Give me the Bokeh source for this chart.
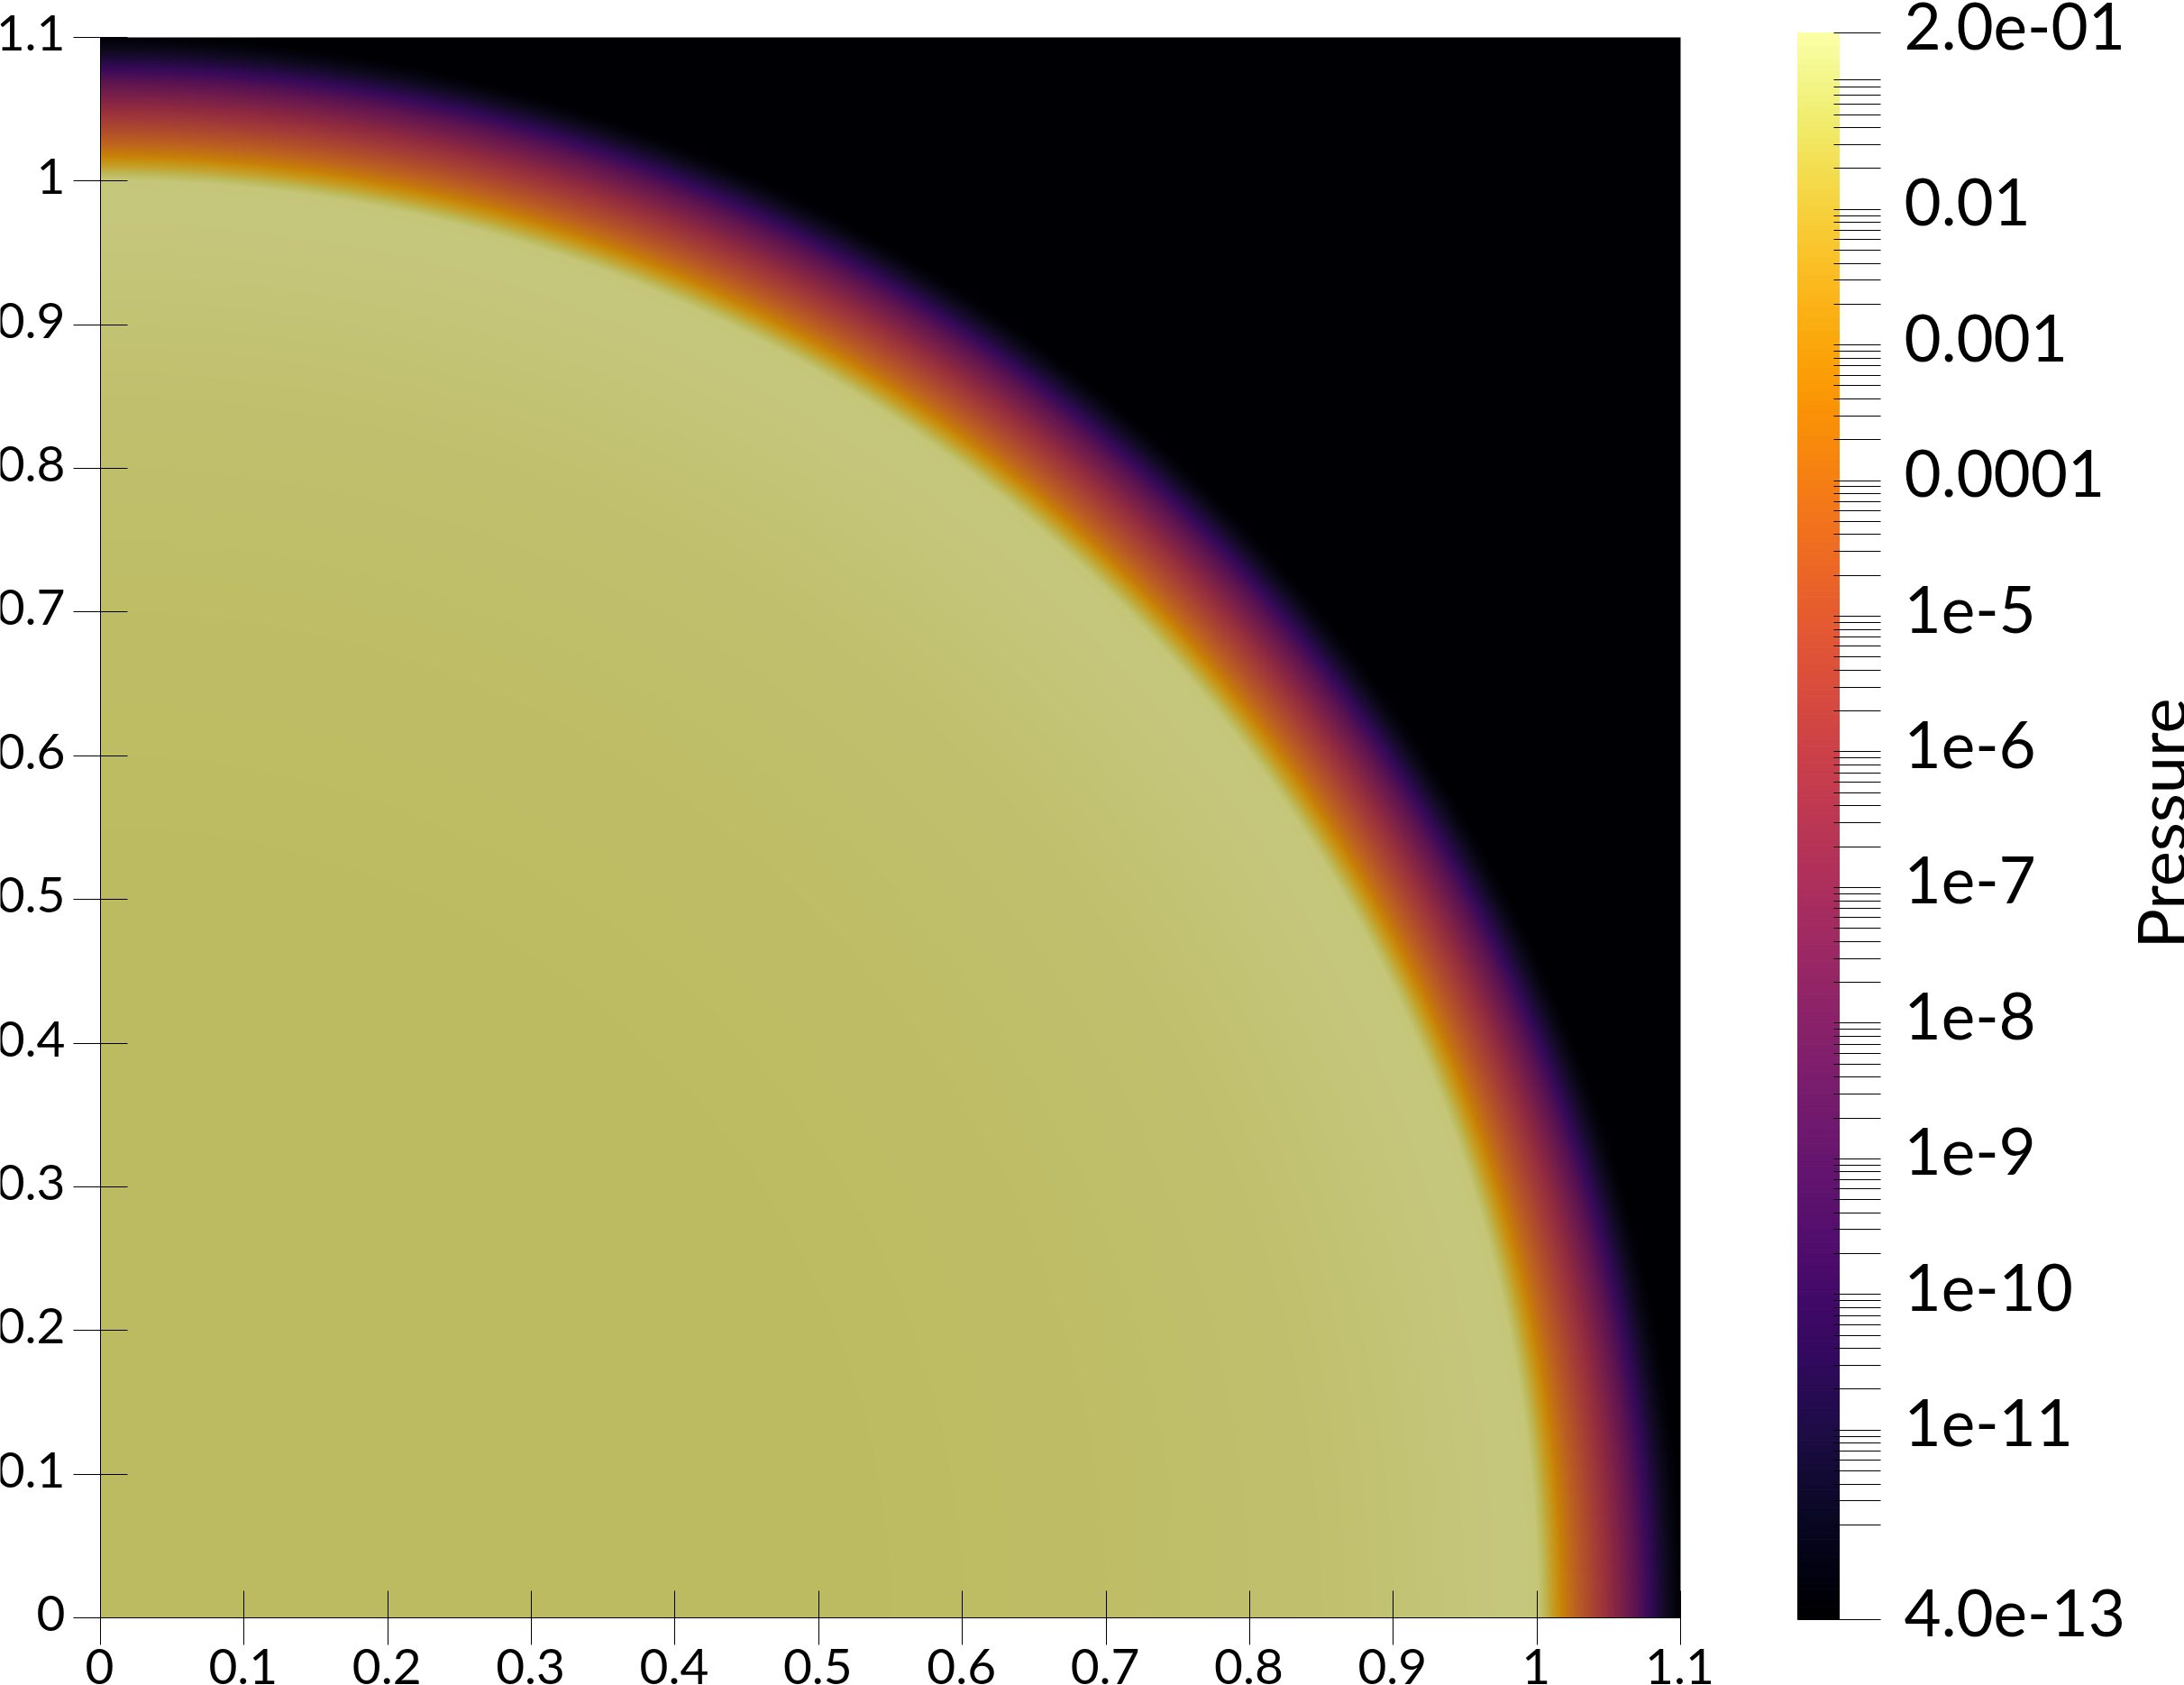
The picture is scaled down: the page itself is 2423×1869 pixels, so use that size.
import math

import numpy as np
from bokeh.core.properties import value
from bokeh.embed import file_html
from bokeh.layouts import row
from bokeh.models import FixedTicker, Range1d
from bokeh.palettes import Inferno256
from bokeh.plotting import figure
from bokeh.resources import INLINE

# Axis ticks
tick_values = [0, 0.1, 0.2, 0.3, 0.4, 0.5, 0.6, 0.7, 0.8, 0.9, 1, 1.1]
tick_labels = ["0", "0.1", "0.2", "0.3", "0.4", "0.5", "0.6", "0.7", "0.8", "0.9", "1", "1.1"]

# Radial profile of the field colour
radius = [0.0, 0.55, 0.60, 0.70, 0.80, 0.85, 0.90, 0.95, 0.99, 1.001, 1.0055, 1.0095, 1.0145, 1.018,
          1.026, 1.0335, 1.0425, 1.052, 1.061, 1.069, 1.078, 1.084, 1.0905, 1.097, 1.102, 1.6]
red = [0xBD, 0xBD, 0xBE, 0xBF, 0xC0, 0xC1, 0xC3, 0xC5, 0xC6, 0xC5, 0xBD, 0xC4, 0xC8, 0xC8,
       0xBE, 0xB3, 0xA3, 0x8F, 0x74, 0x5C, 0x38, 0x22, 0x10, 0x04, 0x00, 0x00]
green = [0xBB, 0xBC, 0xBD, 0xBE, 0xBF, 0xC0, 0xC3, 0xC6, 0xC8, 0xC6, 0xB8, 0xA5, 0x90, 0x7F,
         0x64, 0x50, 0x3C, 0x2A, 0x1E, 0x14, 0x0A, 0x0A, 0x0A, 0x04, 0x00, 0x00]
blue = [0x62, 0x62, 0x64, 0x67, 0x6B, 0x6F, 0x74, 0x7A, 0x7E, 0x78, 0x57, 0x30, 0x10, 0x07,
        0x20, 0x2A, 0x38, 0x40, 0x4C, 0x50, 0x5A, 0x40, 0x20, 0x0C, 0x04, 0x04]

# Colour bar
bar_low, bar_high = 4.0e-13, 0.2
bar_labelled = [0.2, 0.01, 0.001, 0.0001, 1e-5, 1e-6, 1e-7, 1e-8, 1e-9, 1e-10, 1e-11, 4.0e-13]
bar_labels = ["2.0e-01", "0.01", "0.001", "0.0001", "1e-5", "1e-6", "1e-7", "1e-8", "1e-9",
              "1e-10", "1e-11", "4.0e-13"]
bar_unlabelled = [m * 10.0 ** e for e in range(-12, -1) for m in range(2, 10)]
bar_title = "Pressure"

FONT = value("Lato")

# ---- main panel: the frame fills the whole figure, the extents are padded by the margins
N = 1753
S = N / 1.1  # pixels per unit
c = (np.arange(N) + 0.5) / S
r = np.hypot(*np.meshgrid(c, c))
rgba = np.zeros((N, N), dtype=np.uint32)
view = rgba.view(np.uint8).reshape((N, N, 4))
view[..., 0] = np.interp(r, radius, red)
view[..., 1] = np.interp(r, radius, green)
view[..., 2] = np.interp(r, radius, blue)
view[..., 3] = 255

p = figure(width=1930, height=1869, min_border=0,
           x_range=Range1d(-111 / S, (1930 - 111) / S), y_range=Range1d(-75 / S, 1.1 + 41 / S),
           output_backend="svg", toolbar_location=None)
p.image_rgba(image=[rgba], x=0, y=0, dw=1.1, dh=1.1)
p.grid.visible = False
p.outline_line_color = None

for ax in (p.xaxis[0], p.yaxis[0]):
    ax.fixed_location = 0
    ax.bounds = (0, 1.1)
    ax.ticker = FixedTicker(ticks=tick_values)
    ax.major_tick_in = 30
    ax.major_tick_out = 30
    ax.major_tick_line_color = "#000000"
    ax.major_tick_line_width = 1
    ax.minor_tick_line_color = None
    ax.axis_line_color = "#000000"
    ax.axis_line_width = 1
    ax.major_label_overrides = {v: "" for v in tick_values}
    ax.major_label_standoff = 0

zeros = [0] * len(tick_values)
p.text(x=tick_values, y=zeros, text=tick_labels, x_offset=-1, y_offset=54, text_align="center",
       text_baseline="alphabetic", text_font=FONT, text_font_size="55px", text_color="#000000")
p.text(x=zeros, y=tick_values, text=tick_labels, x_offset=-39, y_offset=-5, text_align="right",
       text_baseline="alphabetic", text_font=FONT, text_font_size="55px", text_color="#000000")

# ---- colour bar panel
edges = np.logspace(np.log10(bar_low), np.log10(bar_high), len(Inferno256) + 1)
D = 1760 / math.log10(bar_high / bar_low)  # pixels per decade
q = figure(width=493, height=1869, min_border=0,
           x_range=Range1d(-64 / 46, (493 - 64) / 46),
           y_range=Range1d(bar_low / 10 ** (73 / D), bar_high * 10 ** (36 / D)),
           y_axis_type="log", y_axis_location="right",
           output_backend="svg", toolbar_location=None)
q.quad(left=0, right=1, bottom=edges[:-1], top=edges[1:], fill_color=list(Inferno256),
       line_color=list(Inferno256), line_width=1)
q.grid.visible = False
q.xaxis.visible = False
q.outline_line_color = None
ax = q.yaxis[0]
ax.fixed_location = 1
ax.bounds = (bar_low, bar_high)
ax.ticker = FixedTicker(ticks=bar_labelled, minor_ticks=bar_unlabelled)
ax.major_tick_in = 6
ax.major_tick_out = 46
ax.minor_tick_in = 6
ax.minor_tick_out = 46
ax.major_tick_line_color = "#000000"
ax.minor_tick_line_color = "#000000"
ax.axis_line_color = None
ax.major_label_overrides = {v: "" for v in bar_labelled}
ax.major_label_standoff = 0

q.text(x=[1] * len(bar_labelled), y=bar_labelled, text=bar_labels, x_offset=72, y_offset=-8,
       text_align="left", text_baseline="alphabetic", text_font=FONT, text_font_size="71px",
       text_color="#000000")
q.text(x=[1], y=[math.sqrt(bar_low * bar_high)], text=[bar_title], x_offset=356, y_offset=-3,
       angle=math.pi / 2, text_align="center", text_baseline="alphabetic", text_font=FONT,
       text_font_size="74px", text_color="#000000")

layout = row(p, q, spacing=0)
open("out.html", "w").write(file_html(layout, INLINE))
